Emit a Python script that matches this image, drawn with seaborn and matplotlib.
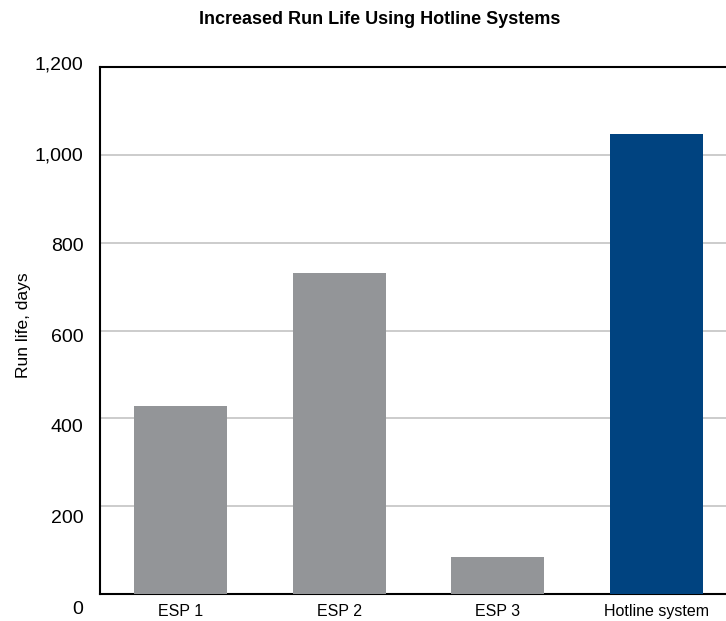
import matplotlib
matplotlib.use("Agg")
import matplotlib.pyplot as plt
import matplotlib.transforms as mtransforms
import seaborn as sns
import pandas as pd

# données
systems = ["ESP 1", "ESP 2", "ESP 3", "Hotline system"]
run_life = [428, 730, 85, 1048]
bar_colors = ["#939598", "#939598", "#939598", "#004380"]
y_ticks = [0, 200, 400, 600, 800, 1000, 1200]

df = pd.DataFrame({"system": systems, "run_life": run_life})

sns.set_style("white")
plt.rcParams["font.family"] = ["Liberation Sans", "DejaVu Sans"]
plt.rcParams["text.color"] = "black"
plt.rcParams["axes.labelcolor"] = "black"
plt.rcParams["xtick.color"] = "black"
plt.rcParams["ytick.color"] = "black"

fig = plt.figure(figsize=(7.26, 6.21), dpi=100)
ax = fig.add_axes([100 / 726, 27 / 621, 636 / 726, 527 / 621])

sns.barplot(data=df, x="system", y="run_life", hue="system",
            palette=bar_colors, width=0.586, saturation=1,
            edgecolor="none", linewidth=0,
            legend=False, ax=ax, zorder=3)

ax.set_ylim(0, 1200)
ax.set_xlim(-0.507, 3.5)
ax.set_yticks(y_ticks)
ax.set_yticklabels([f"{v:,}" for v in y_ticks], fontsize=14)
ax.tick_params(axis="x", labelsize=11.5, length=0, pad=7)
ax.tick_params(axis="y", length=0, pad=12)
ax.yaxis.grid(True, color="#c4c4c4", linewidth=1.2, zorder=0)
ax.set_axisbelow(True)

# dans l'original, les libellés de l'axe Y sont légèrement décalés vers le bas
for v, lab in zip(y_ticks, ax.get_yticklabels()):
    dy = (13.5 - v * 17.5 / 1200) / 100
    lab.set_transform(lab.get_transform()
                      + mtransforms.ScaledTranslation(0, -dy, fig.dpi_scale_trans))

for side in ["left", "bottom", "top"]:
    ax.spines[side].set_color("black")
    ax.spines[side].set_linewidth(1.5)
ax.spines["right"].set_visible(False)

ax.set_xlabel("")
ax.set_ylabel("Run life, days", fontsize=12.5)
ax.yaxis.set_label_coords(-0.108, 0.51)

fig.text(380 / 726, 1 - 20 / 621, "Increased Run Life Using Hotline Systems",
         ha="center", va="center", fontsize=13, fontweight="bold")

fig.savefig("out.png", dpi=100)
